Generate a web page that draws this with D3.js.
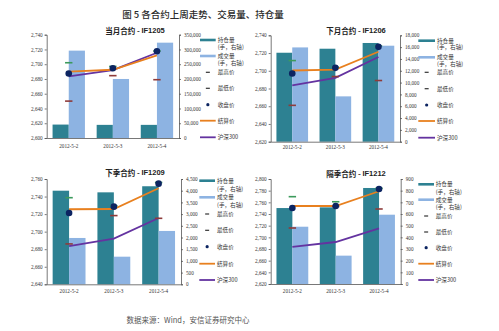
<!DOCTYPE html>
<html><head><meta charset="utf-8">
<script src="https://cdnjs.cloudflare.com/ajax/libs/d3/7.8.5/d3.min.js"></script>
<style>
html,body{margin:0;padding:0;background:#ffffff;}
svg{display:block;}
</style></head>
<body>
<svg id="chart" width="499" height="331"></svg>
<script>
// ---------- DATA ----------
const categories = ["2012-5-2", "2012-5-3", "2012-5-4"];
const csi300 = [2683.5, 2692, 2715.5];

const titles = ["当月合约 - IF1205", "下月合约 - IF1206", "下季合约 - IF1209", "隔季合约 - IF1212"];

const hold1205 = [45500, 44500, 44500];
const vol1205 = [296000, 200000, 323000];
const high1205 = [2702, 2697, 2718];
const low1205 = [2650, 2684.5, 2679];
const close1205 = [2687.5, 2694.5, 2717.5];
const settle1205 = [2690, 2692.5, 2712];

const hold1206 = [15050, 15730, 16700];
const vol1206 = [15950, 7670, 16240];
const high1206 = [2711.5, 2704, 2728];
const low1206 = [2661, 2693.5, 2689];
const close1206 = [2697, 2703.3, 2727];
const settle1206 = [2700.3, 2701.4, 2721.4];

const hold1209 = [4000, 3930, 4190];
const vol1209 = [1980, 1180, 2280];
const high1209 = [2738.7, 2729.5, 2756];
const low1209 = [2686, 2718.3, 2715.2];
const close1209 = [2721.3, 2728.5, 2754.7];
const settle1209 = [2725.5, 2725.8, 2749.4];

const hold1212 = [651, 657, 823];
const vol1212 = [491, 243, 594];
const high1212 = [2769.7, 2761, 2784];
const low1212 = [2716, 2753, 2748.6];
const close1212 = [2750.3, 2753.7, 2782.9];
const settle1212 = [2753.7, 2753.7, 2779];

const leftDomains = [[2600, 2740], [2620, 2740], [2640, 2760], [2620, 2800]];
const rightDomains = [[0, 350000], [0, 18000], [0, 4500], [0, 900]];
const rightSteps = [50000, 2000, 500, 100];

const legendLabels = [["持仓量", "(手，右轴)"], ["成交量", "(手，右轴)"], ["最高价"], ["最低价"], ["收盘价"], ["结算价"], ["沪深300"]];
const mainTitle = "图 5 各合约上周走势、交易量、持仓量";
const sourceText = "数据来源：Wind，安信证券研究中心";

// ---------- STYLE / LAYOUT ----------
const C = {teal: "#2d8192", light: "#8db3e2", high: "#3c9a5c", low: "#8e3b3a", close: "#0c2461", settle: "#e8801f", csi: "#6433a0", axis: "#555"};
const cjk = "'Noto Sans CJK SC', 'Noto Sans', sans-serif";
const serif = "'Liberation Serif', 'DejaVu Serif', serif";

const panels = [
  {l: 46.7, r: 179, t: 34.7, b: 138, tx: 135, ty: 30, sw: [200, 215.7], txl: 217.7, ly: [40, 56, 72.3, 88.3, 104.7, 120.7, 137.3], sub: 6.5, xl: 145.7,
   hold: hold1205, vol: vol1205, high: high1205, low: low1205, close: close1205, settle: settle1205},
  {l: 270.7, r: 400, t: 35.3, b: 141.7, tx: 356, ty: 30, sw: [418.3, 435], txl: 437, ly: [40.7, 57.3, 72.3, 88.7, 105, 121, 137.7], sub: 6.5, xl: 147.3,
   hold: hold1206, vol: vol1206, high: high1206, low: low1206, close: close1206, settle: settle1206},
  {l: 46.7, r: 181, t: 179, b: 284.3, tx: 135, ty: 171.7, sw: [199.3, 215], txl: 217, ly: [180.7, 197.3, 214, 230.3, 246.7, 263.7, 280], sub: 8, xl: 291,
   hold: hold1209, vol: vol1209, high: high1209, low: low1209, close: close1209, settle: settle1209},
  {l: 270.7, r: 400.7, t: 179, b: 284, tx: 356, ty: 173, sw: [418.3, 434], txl: 435.7, ly: [184.3, 199.7, 216, 232, 247.7, 263.7, 280], sub: 7.5, xl: 291,
   hold: hold1212, vol: vol1212, high: high1212, low: low1212, close: close1212, settle: settle1212}
];

const svg = d3.select("#chart");

svg.append("text").attr("x", 203).attr("y", 14).attr("text-anchor", "middle").attr("dominant-baseline", "central")
  .attr("font-family", cjk).attr("font-size", 9.5).attr("font-weight", 500).attr("fill", "#2a2a2a").text(mainTitle);

svg.append("text").attr("x", 188).attr("y", 319).attr("text-anchor", "middle").attr("dominant-baseline", "central")
  .attr("font-family", cjk).attr("font-size", 7.5).attr("fill", "#555").text(sourceText);

panels.forEach((p, i) => {
  const g = svg.append("g");
  const x = d3.scaleBand().domain(categories).range([p.l, p.r]).paddingInner(0).paddingOuter(0);
  const yL = d3.scaleLinear().domain(leftDomains[i]).range([p.b, p.t]);
  const yR = d3.scaleLinear().domain(rightDomains[i]).range([p.b, p.t]);
  const bw = x.bandwidth() * 0.367;
  const cx = c => x(c) + x.bandwidth() / 2;

  // bars
  g.selectAll(".hold").data(categories).join("rect")
    .attr("x", (c) => cx(c) - bw).attr("width", bw)
    .attr("y", (c, j) => yR(p.hold[j])).attr("height", (c, j) => p.b - yR(p.hold[j]))
    .attr("fill", C.teal);
  g.selectAll(".vol").data(categories).join("rect")
    .attr("x", (c) => cx(c)).attr("width", bw)
    .attr("y", (c, j) => yR(p.vol[j])).attr("height", (c, j) => p.b - yR(p.vol[j]))
    .attr("fill", C.light);

  // axes
  const ld = leftDomains[i];
  const lticks = d3.range(ld[0], ld[1] + 0.1, 20);
  const axL = d3.axisLeft(yL).tickValues(lticks).tickFormat(d3.format(",")).tickSize(2).tickPadding(2);
  const gL = g.append("g").attr("transform", `translate(${p.l},0)`).call(axL);
  const rd = rightDomains[i];
  const rticks = d3.range(rd[0], rd[1] + 0.1, rightSteps[i]);
  const axR = d3.axisRight(yR).tickValues(rticks).tickFormat(d3.format(",")).tickSize(2).tickPadding(3);
  const gR = g.append("g").attr("transform", `translate(${p.r},0)`).call(axR);
  const axB = d3.axisBottom(x).tickSize(0).tickPadding(5);
  const gB = g.append("g").attr("transform", `translate(0,${p.b})`).call(axB);
  [gL, gR, gB].forEach(a => {
    a.select(".domain").attr("stroke", C.axis).attr("stroke-width", 0.8);
    a.selectAll(".tick line").attr("stroke", C.axis).attr("stroke-width", 0.8);
    a.selectAll("text").attr("font-family", serif).attr("font-size", 5.2).attr("fill", "#333");
  });
  gB.selectAll("text").attr("y", p.xl - p.b).attr("dy", "0.35em");

  // CSI300 and settlement lines
  const line = d3.line().x((d, j) => cx(categories[j])).y(d => yL(d));
  g.append("path").datum(csi300).attr("d", line).attr("fill", "none").attr("stroke", C.csi).attr("stroke-width", 1.8);
  g.append("path").datum(p.settle).attr("d", line).attr("fill", "none").attr("stroke", C.settle).attr("stroke-width", 1.8);

  // high / low dashes
  const dw = 3.7;
  g.selectAll(".hi").data(p.high).join("line")
    .attr("x1", (d, j) => cx(categories[j]) - dw).attr("x2", (d, j) => cx(categories[j]) + dw)
    .attr("y1", d => yL(d)).attr("y2", d => yL(d)).attr("stroke", C.high).attr("stroke-width", 1.6);
  g.selectAll(".lo").data(p.low).join("line")
    .attr("x1", (d, j) => cx(categories[j]) - dw).attr("x2", (d, j) => cx(categories[j]) + dw)
    .attr("y1", d => yL(d)).attr("y2", d => yL(d)).attr("stroke", C.low).attr("stroke-width", 1.6);
  // close dots
  g.selectAll(".cl").data(p.close).join("circle")
    .attr("cx", (d, j) => cx(categories[j])).attr("cy", d => yL(d)).attr("r", 3.3).attr("fill", C.close);

  // title
  const tt = g.append("text").attr("x", p.tx).attr("y", p.ty).attr("text-anchor", "middle").attr("dominant-baseline", "central")
    .attr("font-size", 7.5).attr("font-weight", "bold").attr("fill", "#222");
  const parts = titles[i].split(" - ");
  tt.append("tspan").attr("font-family", cjk).text(parts[0] + " - ");
  tt.append("tspan").attr("font-family", "'Liberation Sans', Arial, sans-serif").text(parts[1]);

  // legend
  legendLabels.forEach((lab, k) => {
    const y = p.ly[k];
    const x0 = p.sw[0], x1 = p.sw[1], xm = (x0 + x1) / 2;
    if (k === 0 || k === 1) {
      g.append("line").attr("x1", x0).attr("x2", x1).attr("y1", y).attr("y2", y)
        .attr("stroke", k === 0 ? C.teal : C.light).attr("stroke-width", 2.6);
    } else if (k === 2 || k === 3) {
      g.append("line").attr("x1", xm - 2).attr("x2", xm + 2).attr("y1", y).attr("y2", y)
        .attr("stroke", "#333").attr("stroke-width", 1.2);
    } else if (k === 4) {
      g.append("circle").attr("cx", xm).attr("cy", y).attr("r", 1.6).attr("fill", C.close);
    } else {
      g.append("line").attr("x1", x0).attr("x2", x1).attr("y1", y).attr("y2", y)
        .attr("stroke", k === 5 ? C.settle : C.csi).attr("stroke-width", 1.8);
    }
    lab.forEach((s, m) => {
      g.append("text").attr("x", p.txl).attr("y", y + m * p.sub).attr("dominant-baseline", "central")
        .attr("font-family", cjk).attr("font-size", 5.6).attr("fill", "#333").text(s);
    });
  });
});
</script>
</body></html>
